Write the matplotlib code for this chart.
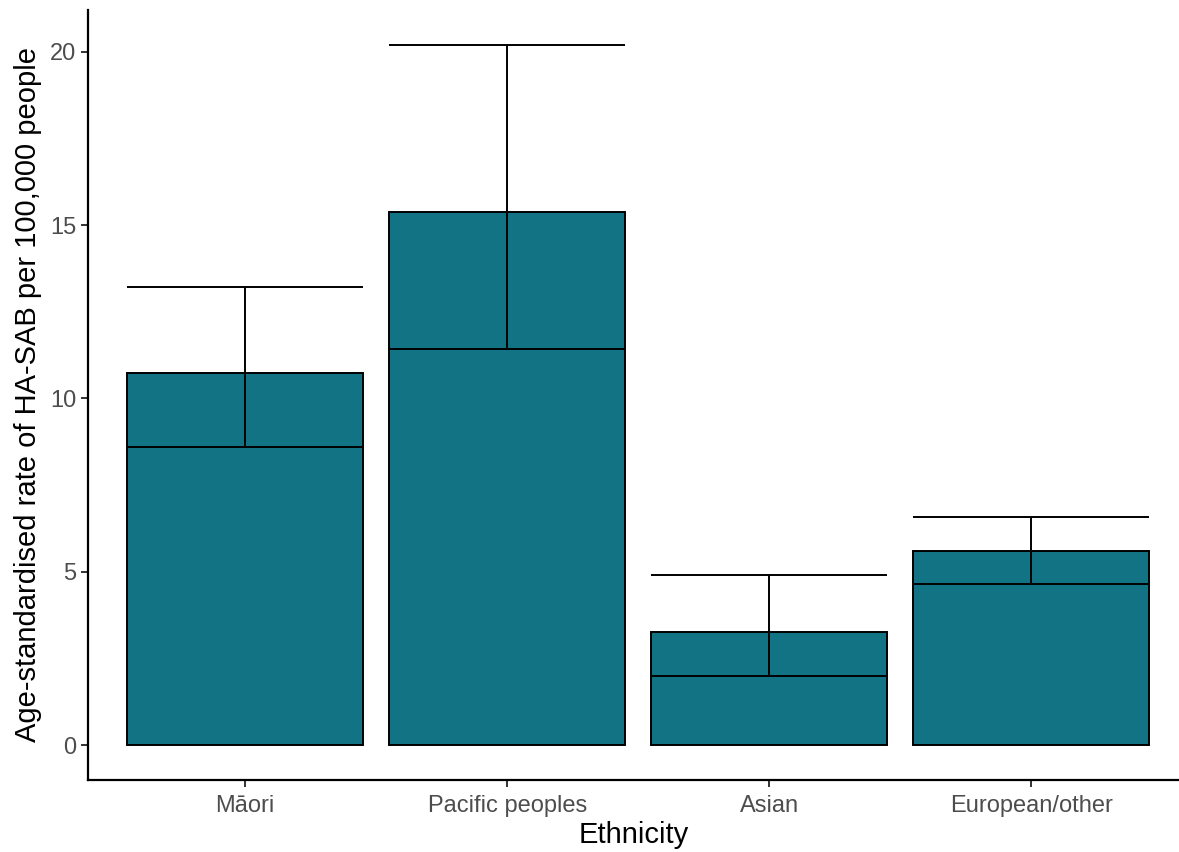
import matplotlib.pyplot as plt
import numpy as np

plt.rcParams['font.family'] = ['Liberation Sans', 'DejaVu Sans']

# values
ethnicity = ['Māori', 'Pacific peoples', 'Asian', 'European/other']
rate = [10.74, 15.38, 3.26, 5.60]
lower = [8.60, 11.43, 1.99, 4.65]
upper = [13.22, 20.20, 4.91, 6.58]

fig = plt.figure(figsize=(11.79, 8.52), dpi=100)
ax = fig.add_axes([88/1179, 72/852, (1179-88)/1179, 770/852])

x = np.arange(len(ethnicity))
ax.bar(x, rate, width=0.9, color='#117383', edgecolor='black', linewidth=1.4, zorder=2)

# error bars as whole-width lines, like geom_errorbar
ax.hlines(lower, x - 0.45, x + 0.45, color='black', lw=1.4, zorder=3)
ax.hlines(upper, x - 0.45, x + 0.45, color='black', lw=1.4, zorder=3)
ax.vlines(x, lower, upper, color='black', lw=1.4, zorder=3)

ax.set_xlim(-0.6, 3.564)
ax.set_ylim(-1.01, 21.21)
ax.set_xticks(x)
ax.set_xticklabels(ethnicity)
ax.set_yticks([0, 5, 10, 15, 20])
ax.tick_params(labelsize=17, labelcolor='#4D4D4D', color='#333333', length=5, width=1.4)
ax.tick_params(axis='x', pad=6)
ax.set_xlabel('Ethnicity', fontsize=21, labelpad=3)
ax.set_ylabel('Age-standardised rate of HA-SAB per 100,000 people', fontsize=21, labelpad=6)

for s in ['top', 'right']:
    ax.spines[s].set_visible(False)
for s in ['left', 'bottom']:
    ax.spines[s].set_linewidth(1.6)

fig.savefig('out.png', dpi=100)
